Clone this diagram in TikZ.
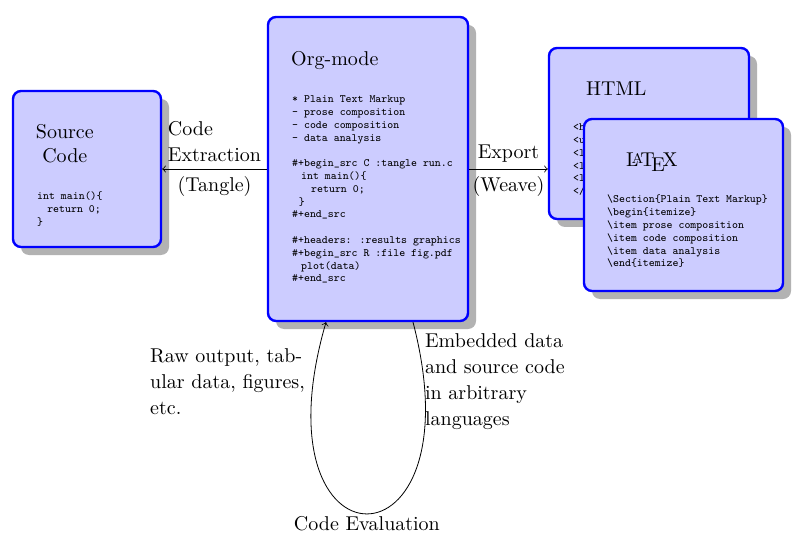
\documentclass[tikz,border=0pt]{standalone}
\usetikzlibrary{shadows}
\tikzset{
  panel/.style={draw=blue, very thick, fill=blue!20, rounded corners,
    drop shadow={shadow xshift=4pt, shadow yshift=-4pt, fill=black!30, opacity=1}},
  paneltitle/.style={anchor=base west, inner sep=0pt},
  listing/.style={anchor=base west, inner sep=0pt, font=\ttfamily\fontsize{5.6}{6.4}\selectfont},
  remark/.style={align=left, font=\fontsize{10}{13}\selectfont}
}
\begin{document}
\begin{tikzpicture}[x=0.5pt, y=0.5pt]
  \useasboundingbox (0,0) rectangle (806,541);
  % Org-mode document
  \node[panel, minimum width=100pt, minimum height=152pt] (org) at (368,372) {};
  \node[paneltitle] (orgtitle) at ([shift={(24,-50)}]org.north west) {Org-mode};
  \node[listing] (orgcode) at ([shift={(25,-87)}]org.north west) {\begin{tabular}[t]{@{}l@{}}
    * Plain Text Markup\\
    - prose composition\\
    - code composition\\
    - data analysis\\
    \\
    \#+begin\_src C :tangle run.c\\
    \hspace{0.8em}int main()\{\\
    \hspace{1.7em}return 0;\\
    \hspace{0.6em}\}\\
    \#+end\_src\\
    \\
    \#+headers: :results graphics\\
    \#+begin\_src R :file fig.pdf\\
    \hspace{0.8em}plot(data)\\
    \#+end\_src
  \end{tabular}};
  % source code
  \node[panel, minimum width=74pt, minimum height=78pt] (src) at (87,372) {};
  \node[anchor=base, inner sep=0pt] (srctitle) at ([shift={(53,-49)}]src.north west) {\begin{tabular}[t]{@{}c@{}}Source\\Code\end{tabular}};
  \node[listing] (srccode) at ([shift={(25,-110)}]src.north west) {\begin{tabular}[t]{@{}l@{}}
    int main()\{\\
    \hspace{0.9em}return 0;\\
    \}
  \end{tabular}};
  % exports
  \node[panel, minimum width=100pt, minimum height=85.5pt] (html) at (649,407.5) {};
  \node[paneltitle] (htmltitle) at ([shift={(38,-49)}]html.north west) {HTML};
  \node[listing] (htmlcode) at ([shift={(25,-84)}]html.north west) {\begin{tabular}[t]{@{}l@{}}
    <h1>Plain Text Markup</h1>\\
    <ul>\\
    <li>prose composition</li>\\
    <li>code composition</li>\\
    <li>data analysis</li>\\
    </ul>
  \end{tabular}};
  \node[panel, minimum width=99.5pt, minimum height=86pt] (latex) at (683.5,336) {};
  \node[paneltitle] (latextitle) at ([shift={(43,-49)}]latex.north west) {\LaTeX};
  \node[listing] (latexcode) at ([shift={(24,-85)}]latex.north west) {\begin{tabular}[t]{@{}l@{}}
    \textbackslash Section\{Plain Text Markup\}\\
    \textbackslash begin\{itemize\}\\
    \textbackslash item prose composition\\
    \textbackslash item code composition\\
    \textbackslash item data analysis\\
    \textbackslash end\{itemize\}
  \end{tabular}};
  % tangle and weave
  \draw[->] (org) -- (src)
    node[midway, above, remark] (tanglelbl) {Code\\Extraction}
    node[midway, below, remark] (tanglenote) {(Tangle)};
  \draw[->] (org.east) -- (org.east -| html.west)
    node[midway, above, remark] (weavelbl) {Export}
    node[midway, below, remark] (weavenote) {(Weave)};
  % evaluation loop
  \coordinate (evalout) at ([shift={(45,0)}]org.south);
  \coordinate (evalin) at ([shift={(-42,0)}]org.south);
  \draw[->] (evalout) .. controls +(67,-256) and +(-74,-255) .. (evalin)
    node[pos=0.5, below, inner sep=1pt] (evallbl) {Code Evaluation};
  \node[remark, anchor=north east] (rawlbl) at ([shift={(-14,-19)}]evalin) {Raw output, tab-\\ular data, figures,\\etc.};
  \node[remark, anchor=north west] (embedlbl) at ([shift={(5,-4)}]evalout) {Embedded data\\and source code\\in arbitrary\\languages};
\end{tikzpicture}
\end{document}
